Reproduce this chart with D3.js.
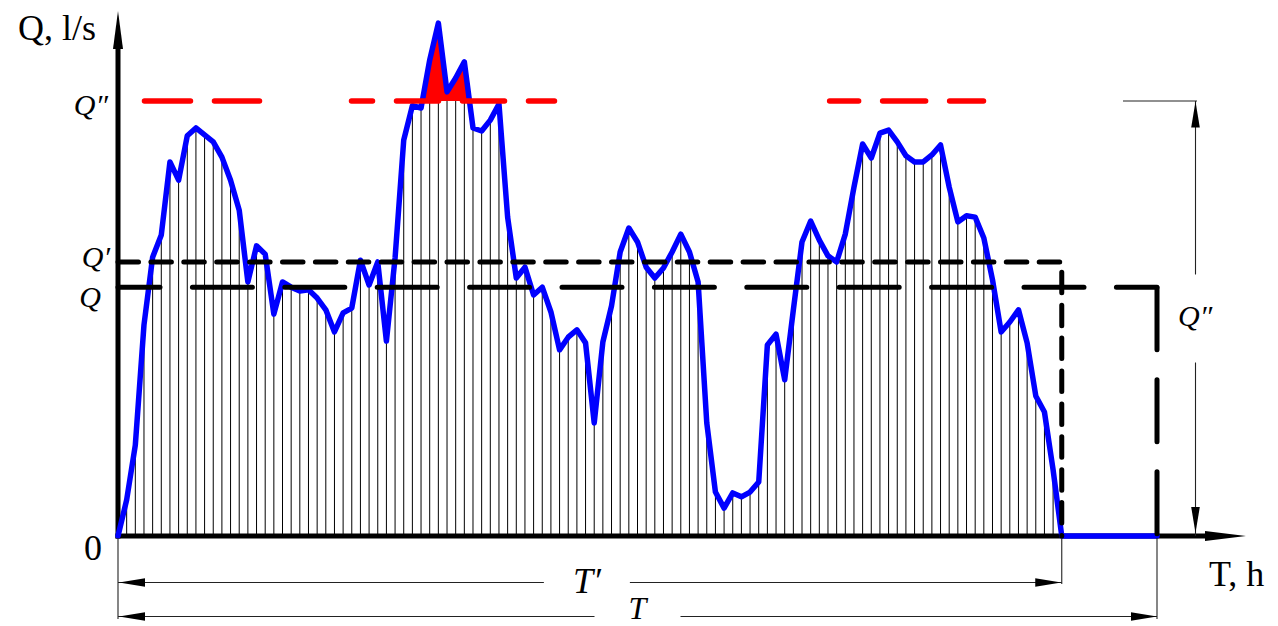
<!DOCTYPE html>
<html>
<head>
<meta charset="utf-8">
<script src="https://cdn.jsdelivr.net/npm/d3@7"></script>
<style>
  html, body { margin: 0; padding: 0; background: #fff; }
  svg { display: block; }
  text { font-family: "Liberation Serif", "DejaVu Serif", serif; fill: #000; }
  .it { font-style: italic; }
</style>
</head>
<body>
<svg id="chart" width="1278" height="626"></svg>
<script>
// flow hydrograph, one value per hour, l/s
var flow = [
  0, 8.3, 20.9, 48.5, 64.1, 69.2, 86.0, 81.8, 92.0, 93.8,
  92.2, 90.6, 87.1, 81.8, 74.9, 58.4, 66.7, 64.8, 51.0, 58.4,
  57.2, 56.3, 56.6, 54.7, 52.0, 46.9, 51.3, 52.4, 63.4, 57.7,
  63.0, 44.8, 63.9, 91.0, 98.9, 98.4, 109.4, 117.9, 102.1, 105.3,
  109.0, 93.8, 93.1, 95.6, 99.3, 73.3, 59.3, 61.8, 55.4, 57.2,
  51.5, 42.8, 45.7, 47.4, 44.4, 26.0, 44.6, 52.9, 65.3, 70.8,
  67.6, 61.8, 59.3, 61.6, 65.3, 69.4, 65.3, 58.4, 26.0, 10.1,
  6.4, 9.9, 9.0, 10.1, 12.4, 43.9, 46.4, 35.9, 52.0, 67.6,
  72.4, 68.0, 64.4, 63.0, 69.4, 80.2, 90.1, 86.9, 92.6, 93.3,
  90.6, 87.4, 86.0, 86.0, 87.6, 89.9, 80.2, 72.2, 73.6, 73.3,
  68.5, 58.9, 46.9, 49.2, 52.0, 44.4, 32.2, 28.5, 15.2, 0,
  0, 0, 0, 0, 0, 0, 0, 0, 0, 0, 0
];
var hours = flow.map(function (d, i) { return i; });

var T = 120;        // total period
var Tp = 109;       // T'
var Qpp = 100;      // Q''
var Qp = 63;        // Q'
var Qm = 57.2;      // Q

// red dashed Q'' pieces, in hours
var qppPieces = [[2.77, 16.63], [26.68, 50.7], [81.9, 100.25]];
var qppDash = [[46, 24, 0], [42, 24, 21], [43, 24, 14]];

var svg = d3.select("#chart");

var x = d3.scaleLinear().domain([0, T]).range([118, 1157]);
var y = d3.scaleLinear().domain([0, Qpp]).range([536, 101]);

var data = hours.map(function (h) { return { t: h, q: flow[h] }; });

// hatch lines under the curve
svg.append("g")
  .selectAll("line")
  .data(data.filter(function (d) { return d.q > 0; }))
  .join("line")
    .attr("x1", function (d) { return x(d.t); })
    .attr("x2", function (d) { return x(d.t); })
    .attr("y1", y(0))
    .attr("y2", function (d) { return y(d.q); })
    .attr("stroke", "#000")
    .attr("stroke-width", 1);

// red area above Q''
svg.append("defs").append("clipPath")
    .attr("id", "above")
  .append("rect")
    .attr("x", 0).attr("y", 0)
    .attr("width", 1278).attr("height", y(Qpp));

svg.append("path")
  .datum(data)
  .attr("clip-path", "url(#above)")
  .attr("fill", "#ff0000")
  .attr("d", d3.area()
    .x(function (d) { return x(d.t); })
    .y0(y(Qpp))
    .y1(function (d) { return y(d.q); }));

// axes
svg.append("line")
  .attr("x1", x(0)).attr("x2", x(0))
  .attr("y1", y(0) + 2.5).attr("y2", 45)
  .attr("stroke", "#000").attr("stroke-width", 5);
svg.append("path")
  .attr("d", "M" + (x(0) - 5) + ",49L" + x(0) + ",11L" + (x(0) + 5) + ",49Z")
  .attr("fill", "#000");

svg.append("line")
  .attr("x1", x(0) - 2.5).attr("x2", 1208)
  .attr("y1", y(0)).attr("y2", y(0))
  .attr("stroke", "#000").attr("stroke-width", 5);
svg.append("path")
  .attr("d", "M1205," + (y(0) - 5) + "L1246," + y(0) + "L1205," + (y(0) + 5) + "Z")
  .attr("fill", "#000");

// hydrograph
svg.append("path")
  .datum(data)
  .attr("fill", "none")
  .attr("stroke", "#0000ff")
  .attr("stroke-width", 5.5)
  .attr("stroke-linejoin", "round")
  .attr("stroke-linecap", "round")
  .attr("d", d3.line()
    .x(function (d) { return x(d.t); })
    .y(function (d) { return y(d.q); }));

// Q'' red dashes
qppPieces.forEach(function (p, i) {
  svg.append("line")
    .attr("x1", x(p[0]) + 2.5).attr("x2", x(p[1]) - 2.5)
    .attr("y1", y(Qpp)).attr("y2", y(Qpp))
    .attr("stroke", "#ff0000")
    .attr("stroke-width", 5.5)
    .attr("stroke-linecap", "round")
    .attr("stroke-dasharray", qppDash[i][0] + "," + qppDash[i][1])
    .attr("stroke-dashoffset", qppDash[i][2]);
});

// Q' dashed, down to T'
svg.append("path")
  .attr("d", "M" + x(0) + "," + y(Qp) + "H" + x(Tp) + "V" + y(0))
  .attr("fill", "none")
  .attr("stroke", "#000")
  .attr("stroke-width", 5)
  .attr("stroke-linecap", "round")
  .attr("stroke-linejoin", "round")
  .attr("stroke-dasharray", "20.5,12.4");

// Q long dashes, down to T
svg.append("line")
  .attr("x1", x(0)).attr("x2", x(T))
  .attr("y1", y(Qm)).attr("y2", y(Qm))
  .attr("stroke", "#000")
  .attr("stroke-width", 5)
  .attr("stroke-linecap", "round")
  .attr("stroke-dasharray", "60,32.4")
  .attr("stroke-dashoffset", 18);
svg.append("line")
  .attr("x1", x(T)).attr("x2", x(T))
  .attr("y1", y(Qm) + 0.5).attr("y2", y(0))
  .attr("stroke", "#000")
  .attr("stroke-width", 5)
  .attr("stroke-linecap", "round")
  .attr("stroke-dasharray", "62,30");

// dimension helpers
function arrowHead(tx, ty, dx, dy) {
  var len = 26, hw = 4.3;
  var bx = tx - dx * len, by = ty - dy * len;
  var px = -dy * hw, py = dx * hw;
  svg.append("path")
    .attr("d", "M" + tx + "," + ty + "L" + (bx + px) + "," + (by + py) + "L" + (bx - px) + "," + (by - py) + "Z")
    .attr("fill", "#000");
}
function thin(x1, y1, x2, y2) {
  svg.append("line")
    .attr("x1", x1).attr("y1", y1).attr("x2", x2).attr("y2", y2)
    .attr("stroke", "#222").attr("stroke-width", 1.1);
}

// extension lines
thin(x(0), y(0) + 2, x(0), 619);
thin(x(Tp), y(0) + 2, x(Tp), 584);
thin(x(T), y(0) + 2, x(T), 619);
thin(1123, y(Qpp), 1197, y(Qpp));

// T' dimension
var yTp = 582.5, midTp = (x(0) + x(Tp)) / 2 - 3;
thin(x(0), yTp, midTp - 43, yTp);
thin(midTp + 43, yTp, x(Tp), yTp);
arrowHead(x(0) + 1, yTp, -1, 0);
arrowHead(x(Tp) - 0.5, yTp, 1, 0);

// T dimension
var yT = 616.5, midT = (x(0) + x(T)) / 2;
thin(x(0), yT, midT - 43, yT);
thin(midT + 43, yT, x(T), yT);
arrowHead(x(0) + 1, yT, -1, 0);
arrowHead(x(T), yT, 1, 0);

// Q'' dimension on the right
var xQ = 1195.5, midQ = (y(0) + y(Qpp)) / 2;
thin(xQ, y(Qpp), xQ, midQ - 44);
thin(xQ, midQ + 44, xQ, y(0));
arrowHead(xQ, y(Qpp) + 0.5, 0, -1);
arrowHead(xQ, y(0) - 3, 0, 1);

// labels
svg.append("text").attr("x", 18).attr("y", 40)
  .style("font-size", "36px").text("Q, l/s");
svg.append("text").attr("x", 1209).attr("y", 586)
  .style("font-size", "36px").text("T, h");
svg.append("text").attr("x", 102).attr("y", 560).attr("text-anchor", "end")
  .style("font-size", "36px").text("0");

svg.append("text").attr("class", "it").attr("x", 108).attr("y", y(Qpp) + 14)
  .attr("text-anchor", "end").style("font-size", "30px").text("Q\u2033");
svg.append("text").attr("class", "it").attr("x", 110).attr("y", y(Qp) + 5)
  .attr("text-anchor", "end").style("font-size", "30px").text("Q\u2032");
svg.append("text").attr("class", "it").attr("x", 101).attr("y", y(Qm) + 20)
  .attr("text-anchor", "end").style("font-size", "30px").text("Q");
svg.append("text").attr("class", "it").attr("x", 1178).attr("y", 326)
  .style("font-size", "30px").text("Q\u2033");

svg.append("text").attr("class", "it").attr("x", midTp).attr("y", 593)
  .attr("text-anchor", "middle").style("font-size", "36px").text("T\u2032");
svg.append("text").attr("class", "it").attr("x", midT).attr("y", 619)
  .attr("text-anchor", "middle").style("font-size", "32px").text("T");
</script>
</body>
</html>
